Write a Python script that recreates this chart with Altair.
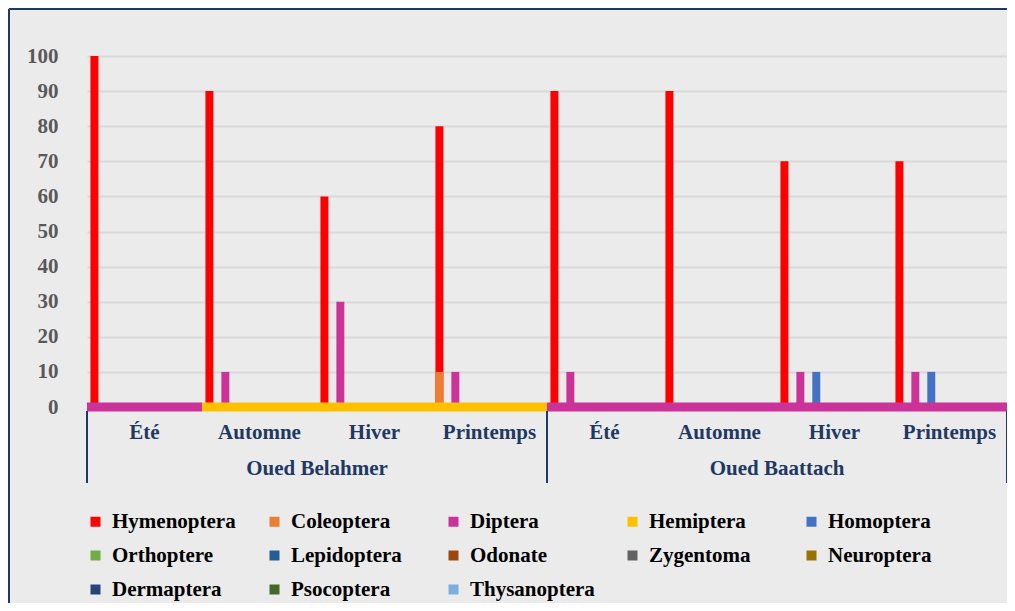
import altair as alt
import pandas as pd

rivers = ["Oued Belahmer", "Oued Baattach"]
seasons = ["Été", "Automne", "Hiver", "Printemps"]
series = ["Hymenoptera", "Coleoptera", "Diptera", "Hemiptera", "Homoptera",
          "Orthoptere", "Lepidoptera", "Odonate", "Zygentoma", "Neuroptera",
          "Dermaptera", "Psocoptera", "Thysanoptera"]
colors = ["#ff0000", "#ed7d31", "#cc3399", "#ffc000", "#4472c4",
          "#70ad47", "#255e91", "#9e480e", "#636363", "#997300",
          "#264478", "#43682b", "#7cafdd"]

# values per group: Belahmer Été, Automne, Hiver, Printemps, Baattach Été, Automne, Hiver, Printemps
hymenoptera = [100, 90, 60, 80, 90, 90, 70, 70]
coleoptera = [0, 0, 0, 10, 0, 0, 0, 0]
diptera = [0, 10, 30, 10, 10, 0, 10, 10]
hemiptera = [0, 0, 0, 0, 0, 0, 0, 0]
homoptera = [0, 0, 0, 0, 0, 0, 10, 10]
orthoptere = [0, 0, 0, 0, 0, 0, 0, 0]
lepidoptera = [0, 0, 0, 0, 0, 0, 0, 0]
odonate = [0, 0, 0, 0, 0, 0, 0, 0]
zygentoma = [0, 0, 0, 0, 0, 0, 0, 0]
neuroptera = [0, 0, 0, 0, 0, 0, 0, 0]
dermaptera = [0, 0, 0, 0, 0, 0, 0, 0]
psocoptera = [0, 0, 0, 0, 0, 0, 0, 0]
thysanoptera = [0, 0, 0, 0, 0, 0, 0, 0]

y_ticks = [0, 10, 20, 30, 40, 50, 60, 70, 80, 90, 100]

# series drawn as the thick baseline strip under each group
baseline_series = ["Diptera", "Hemiptera", "Hemiptera", "Hemiptera",
                   "Diptera", "Diptera", "Diptera", "Diptera"]

values = [hymenoptera, coleoptera, diptera, hemiptera, homoptera, orthoptere,
          lepidoptera, odonate, zygentoma, neuroptera, dermaptera, psocoptera,
          thysanoptera]

groups = [f"{r}|{s}" for r in rivers for s in seasons]

rows = []
for name, vals in zip(series, values):
    for g, v in zip(groups, vals):
        if v > 0:
            slot = "Hymenoptera" if name == "Coleoptera" else name
            rows.append({"group": g, "series": name, "slot": slot, "value": v})
df_bars = pd.DataFrame(rows)
df_base = pd.DataFrame({"group": groups, "series": baseline_series})
df_div_start = pd.DataFrame({"group": [groups[0], groups[4]]})
df_div_end = pd.DataFrame({"group": [groups[7]]})
df_rivers = pd.DataFrame({"group": [f"{r}|Hiver" for r in rivers], "label": rivers})
df_frame = pd.DataFrame({"k": [0]})

W, H = 920, 351
FONT = "Liberation Serif"
NAVY = "#1f3864"

xscale = alt.Scale(domain=groups, paddingInner=0, paddingOuter=0)
yscale = alt.Scale(domain=[0, 100], nice=False)
cscale = alt.Scale(domain=series, range=colors)

x_axis = alt.Axis(title=None, labelExpr="split(datum.label, '|')[1]",
                  ticks=False, domain=False, grid=False, labelAngle=0,
                  labelPadding=14, labelFont=FONT, labelFontSize=21,
                  labelFontWeight="bold", labelColor=NAVY)
y_axis = alt.Axis(title=None, values=y_ticks, ticks=False,
                  domain=False, labelPadding=29, labelFont=FONT,
                  labelFontSize=21, labelFontWeight="bold", labelColor="#595959",
                  labelOverlap=False, labelFlush=False, labelBound=False,
                  grid=True, gridColor="#d9d9d9", gridWidth=2)
legend = alt.Legend(title=None, orient="none", legendX=-2, legendY=455,
                    direction="horizontal",
                    columns=5, symbolType="square", symbolSize=100,
                    symbolStrokeWidth=0, labelFont=FONT, labelFontSize=21,
                    labelFontWeight="bold", labelColor="black",
                    columnPadding=27, rowPadding=12, gridAlign="all",
                    labelOffset=6, padding=0, labelLimit=300)

bars = alt.Chart(df_bars).mark_bar().encode(
    x=alt.X("group:N", scale=xscale, axis=x_axis),
    xOffset=alt.XOffset("slot:N", scale=alt.Scale(domain=series, paddingInner=0,
                                                  paddingOuter=0.72, align=0.3)),
    y=alt.Y("value:Q", scale=yscale, axis=y_axis, stack=None),
    color=alt.Color("series:N", scale=cscale, legend=legend),
)

base = alt.Chart(df_base).mark_bar().encode(
    x=alt.X("group:N", scale=xscale, axis=x_axis),
    y=alt.Y(datum=-1.3, type="quantitative", scale=yscale, axis=y_axis),
    y2=alt.Y2(datum=1.3),
    color=alt.Color("series:N", scale=cscale, legend=legend),
)

div1 = alt.Chart(df_div_start).mark_rule(color=NAVY, strokeWidth=2).encode(
    x=alt.X("group:N", scale=xscale, bandPosition=0),
    y=alt.value(H + 4), y2=alt.value(H + 76),
)
div2 = alt.Chart(df_div_end).mark_rule(color=NAVY, strokeWidth=2).encode(
    x=alt.X("group:N", scale=xscale, bandPosition=1),
    y=alt.value(H + 4), y2=alt.value(H + 76),
)

river_text = alt.Chart(df_rivers).mark_text(
    font=FONT, fontSize=21, fontWeight="bold", color=NAVY, baseline="middle"
).encode(
    x=alt.X("group:N", scale=xscale, bandPosition=0),
    y=alt.value(H + 62),
    text="label:N",
)

frame_top = alt.Chart(df_frame).mark_rule(color=NAVY, strokeWidth=2).encode(
    x=alt.value(-78), x2=alt.value(W), y=alt.value(-47),
)
frame_left = alt.Chart(df_frame).mark_rule(color=NAVY, strokeWidth=2).encode(
    x=alt.value(-78), y=alt.value(-47), y2=alt.value(H + 196),
)

chart = alt.layer(frame_top, frame_left, bars, base, div1, div2, river_text).properties(
    width=W, height=H,
    padding={"left": 79, "top": 48, "right": 0, "bottom": 196},
    autosize=alt.AutoSizeParams(type="none"),
    background="#ebebeb",
).configure_view(stroke=None)

chart.save("out.html", embed_options={"renderer": "svg", "actions": False})
